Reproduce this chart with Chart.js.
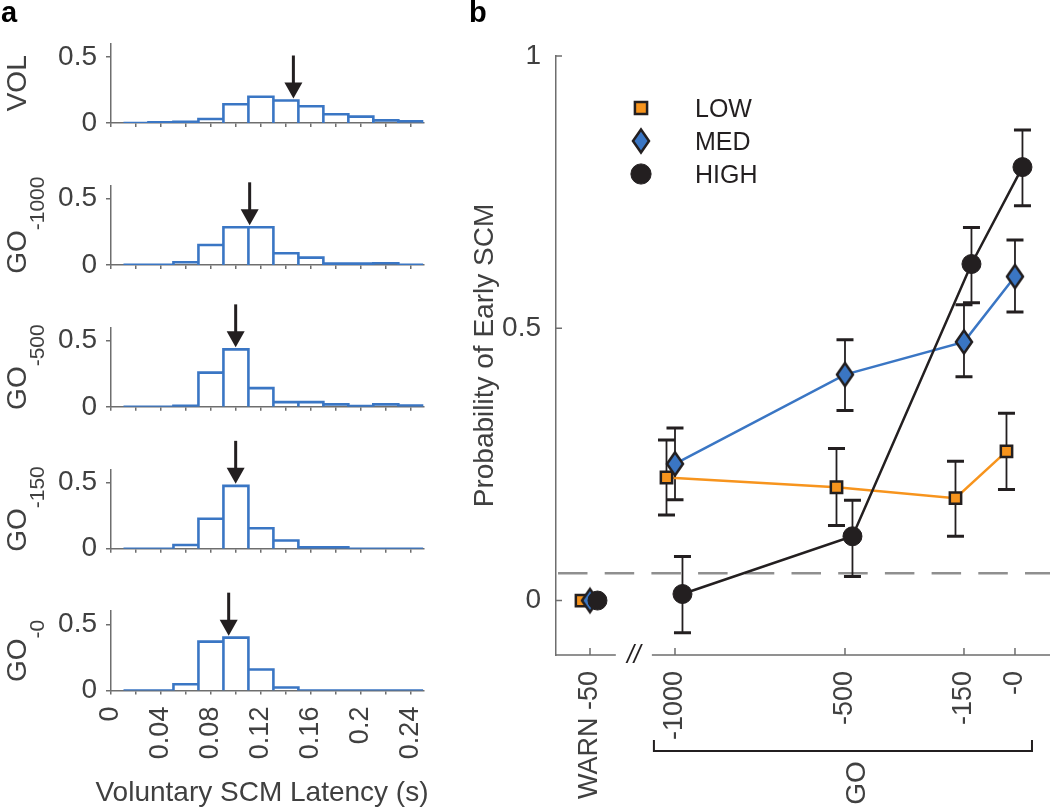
<!DOCTYPE html>
<html>
<head>
<meta charset="utf-8">
<script src="https://cdn.jsdelivr.net/npm/chart.js@4.4.1/dist/chart.umd.min.js"></script>
<style>
  html, body { margin: 0; padding: 0; background: #fff; }
  #fig { position: relative; width: 1050px; height: 809px; overflow: hidden; }
  #fig canvas { position: absolute; top: 0; }
</style>
</head>
<body>
<div id="fig">
  <canvas id="hist0" width="440" height="809" style="left:0"></canvas>
  <canvas id="hist1" width="440" height="809" style="left:0"></canvas>
  <canvas id="hist2" width="440" height="809" style="left:0"></canvas>
  <canvas id="hist3" width="440" height="809" style="left:0"></canvas>
  <canvas id="hist4" width="440" height="809" style="left:0"></canvas>
  <canvas id="prob" width="630" height="809" style="left:440px"></canvas>
</div>
<script>
// ---- panel a: latency histograms ----
const binCenters = [0.02, 0.04, 0.06, 0.08, 0.10, 0.12, 0.14, 0.16, 0.18, 0.20, 0.22, 0.24];
const binWidth = 0.02;
const volHist    = [0, 0.005, 0.01, 0.03, 0.142, 0.198, 0.17, 0.127, 0.066, 0.048, 0.02, 0.013];
const go1000Hist = [0, 0, 0.02, 0.15, 0.284, 0.284, 0.088, 0.055, 0.01, 0.01, 0.012, 0];
const go500Hist  = [0, 0, 0.008, 0.258, 0.434, 0.141, 0.035, 0.035, 0.018, 0.005, 0.018, 0.01];
const go150Hist  = [0, 0, 0.028, 0.226, 0.475, 0.155, 0.062, 0.01, 0.01, 0, 0, 0];
const go0Hist    = [0, 0, 0.048, 0.37, 0.40, 0.16, 0.023, 0, 0, 0, 0, 0];
const medianLatency = [0.146, 0.111, 0.0998, 0.0998, 0.0942];
const histNames = ['VOL', 'GO', 'GO', 'GO', 'GO'];
const histSubs = ['', '-1000', '-500', '-150', '-0'];
const latencyTicks = [0, 0.02, 0.04, 0.06, 0.08, 0.10, 0.12, 0.14, 0.16, 0.18, 0.20, 0.22, 0.24];
const latencyTickLabels = ['0', '', '0.04', '', '0.08', '', '0.12', '', '0.16', '', '0.2', '', '0.24'];
const fractionTicks = [0, 0.5];

// ---- panel b: probability of early SCM ----
const conditionValues = [-1250, -1000, -500, -150, 0];
const conditionLabels = ['WARN -50', '-1000', '-500', '-150', '-0'];
const lowProb  = [0, 0.226, 0.208, 0.188, 0.274];
const lowHi    = [0, 0.295, 0.279, 0.256, 0.344];
const lowLo    = [0, 0.157, 0.138, 0.118, 0.204];
const medProb  = [0, 0.251, 0.415, 0.475, 0.595];
const medHi    = [0, 0.317, 0.479, 0.543, 0.662];
const medLo    = [0, 0.185, 0.349, 0.411, 0.530];
const highProb = [0, 0.012, 0.118, 0.618, 0.796];
const highHi   = [0, 0.081, 0.184, 0.685, 0.864];
const highLo   = [0, -0.059, 0.044, 0.547, 0.725];
const chanceLevel = 0.05;
const probTicks = [0, 0.5, 1];
const axisBreak = [-1174, -1068];
const goBracket = [-1062, 50];

const FONT = "'Liberation Sans', Arial, Helvetica, sans-serif";
const BLUE = '#3a76c4';
const ORANGE = '#f7941d';
const DARK = '#231f20';
const AXIS = '#6e6e6e';
const TEXT = '#404040';
const CHANCE = '#8f8f8f';

const histPanels = [volHist, go1000Hist, go500Hist, go150Hist, go0Hist];
const histZero0 = 123;
const histSpacing = 141.9;
const histPlotH = 79.4;

function outline(values) {
  const pts = [];
  values.forEach((v, i) => {
    const l = binCenters[i] - binWidth / 2;
    const r = binCenters[i] + binWidth / 2;
    pts.push({ x: l, y: 0 }, { x: l, y: v }, { x: r, y: v }, { x: r, y: 0 });
  });
  return pts;
}

function rotatedText(ctx, text, x, y, font, color, align) {
  ctx.save();
  ctx.translate(x, y);
  ctx.rotate(-Math.PI / 2);
  ctx.font = font;
  ctx.fillStyle = color;
  ctx.textAlign = align || 'left';
  ctx.textBaseline = 'alphabetic';
  ctx.fillText(text, 0, 0);
  ctx.restore();
}

const histDecor = {
  id: 'histDecor',
  afterDatasetsDraw(chart, args, opts) {
    const { ctx, chartArea, scales: { x, y } } = chart;
    const i = opts.index;
    const values = histPanels[i];
    const m = medianLatency[i];
    const bin = Math.floor((m - (binCenters[0] - binWidth / 2)) / binWidth);
    const px = x.getPixelForValue(m);
    const tip = y.getPixelForValue(values[bin]) - 2;
    const total = 43, headH = 16, headW = 18;

    ctx.save();
    ctx.fillStyle = DARK;
    ctx.fillRect(px - 1.5, tip - total, 3, total - headH + 1);
    ctx.beginPath();
    ctx.moveTo(px - headW / 2, tip - headH);
    ctx.lineTo(px + headW / 2, tip - headH);
    ctx.lineTo(px, tip);
    ctx.closePath();
    ctx.fill();

    // condition label, rotated, with subscript
    const cy = (chartArea.top + chartArea.bottom) / 2;
    const mainFont = '28px ' + FONT;
    const subFont = '21px ' + FONT;
    ctx.font = mainFont;
    const w1 = ctx.measureText(histNames[i]).width;
    ctx.font = subFont;
    const w2 = histSubs[i] ? ctx.measureText(histSubs[i]).width : 0;
    const start = cy + (w1 + w2) / 2;
    rotatedText(ctx, histNames[i], 26, start, mainFont, TEXT);
    if (histSubs[i]) rotatedText(ctx, histSubs[i], 44, start - w1, subFont, TEXT);

    if (i === 0) {
      ctx.font = 'bold 29px ' + FONT;
      ctx.fillStyle = '#000';
      ctx.textAlign = 'left';
      ctx.textBaseline = 'alphabetic';
      ctx.fillText('a', 1, 22);
    }
    if (i === histPanels.length - 1) {
      ctx.font = '28px ' + FONT;
      ctx.fillStyle = TEXT;
      ctx.textAlign = 'center';
      ctx.textBaseline = 'alphabetic';
      ctx.fillText('Voluntary SCM Latency (s)', 262, 801);
    }
    ctx.restore();
  }
};

function makeHist(i) {
  const zeroY = histZero0 + i * histSpacing;
  const last = i === histPanels.length - 1;
  new Chart(document.getElementById('hist' + i), {
    type: 'line',
    data: {
      datasets: [{
        data: outline(histPanels[i]),
        borderColor: BLUE,
        borderWidth: 2.6,
        borderJoinStyle: 'miter',
        pointRadius: 0,
        tension: 0,
        fill: false
      }]
    },
    options: {
      responsive: false,
      animation: false,
      events: [],
      layout: { padding: { left: 0, right: 440 - 423.3, top: zeroY - histPlotH, bottom: 809 - zeroY - 100 } },
      plugins: { legend: { display: false }, tooltip: { enabled: false }, histDecor: { index: i } },
      scales: {
        x: {
          type: 'linear', min: 0, max: 0.25,
          afterBuildTicks: s => { s.ticks = latencyTicks.map(v => ({ value: v })); },
          afterFit: s => { s.height = 100; s.paddingLeft = 0; s.paddingRight = 0; },
          ticks: {
            display: last, autoSkip: false, minRotation: 90, maxRotation: 90, padding: 12,
            color: TEXT, font: { family: FONT, size: 27 },
            callback: (v, idx) => latencyTickLabels[idx]
          },
          grid: { display: true, drawOnChartArea: false, drawTicks: true, tickLength: 4, color: AXIS, lineWidth: 1.5 },
          border: { display: true, color: AXIS, width: 1.5 }
        },
        y: {
          min: 0, max: 0.6,
          afterBuildTicks: s => { s.ticks = fractionTicks.map(v => ({ value: v })); },
          afterFit: s => { s.width = 111; s.paddingTop = 0; s.paddingBottom = 0; },
          ticks: { padding: 9, color: TEXT, font: { family: FONT, size: 28 }, callback: v => String(v) },
          grid: { display: true, drawOnChartArea: false, drawTicks: true, tickLength: 5, color: AXIS, lineWidth: 1.5 },
          border: { display: true, color: AXIS, width: 1.5 }
        }
      }
    },
    plugins: [histDecor]
  });
}
histPanels.forEach((_, i) => makeHist(i));

// ---- panel b ----
function diamondMarker(fill) {
  const c = document.createElement('canvas');
  c.width = 22; c.height = 30;
  const g = c.getContext('2d');
  g.beginPath();
  g.moveTo(11, 3.5);
  g.lineTo(19, 15);
  g.lineTo(11, 26.5);
  g.lineTo(3, 15);
  g.closePath();
  g.fillStyle = fill;
  g.fill();
  g.lineWidth = 2.5;
  g.lineJoin = 'miter';
  g.strokeStyle = DARK;
  g.stroke();
  return c;
}

const groups = [
  { label: 'LOW', prob: lowProb, hi: lowHi, lo: lowLo, color: ORANGE, marker: 'rect', radius: 8, fill: ORANGE, bw: 2.5, dx: -25, order: 3 },
  { label: 'MED', prob: medProb, hi: medHi, lo: medLo, color: BLUE, marker: diamondMarker(BLUE), radius: 10, fill: BLUE, bw: 2.5, dx: 0, order: 2 },
  { label: 'HIGH', prob: highProb, hi: highHi, lo: highLo, color: DARK, marker: 'circle', radius: 9.5, fill: DARK, bw: 1, dx: 22, order: 1 }
];

const probDecor = {
  id: 'probDecor',
  beforeDatasetsDraw(chart) {
    const { ctx, chartArea, scales: { x, y } } = chart;
    ctx.save();
    // chance level
    ctx.strokeStyle = CHANCE;
    ctx.lineWidth = 2.5;
    ctx.setLineDash([29.5, 17.2]);
    ctx.lineDashOffset = -2;
    const yc = y.getPixelForValue(chanceLevel);
    ctx.beginPath();
    ctx.moveTo(chartArea.left, yc);
    ctx.lineTo(chartArea.right, yc);
    ctx.stroke();
    ctx.setLineDash([]);
    // error bars
    ctx.strokeStyle = DARK;
    groups.forEach(g => {
      conditionValues.forEach((c, i) => {
        if (g.hi[i] === g.lo[i]) return;
        const px = x.getPixelForValue(c + g.dx);
        const yt = y.getPixelForValue(g.hi[i]);
        const yb = y.getPixelForValue(g.lo[i]);
        ctx.lineWidth = 1.8;
        ctx.beginPath();
        ctx.moveTo(px, yt);
        ctx.lineTo(px, yb);
        ctx.stroke();
        ctx.lineWidth = 3;
        ctx.beginPath();
        ctx.moveTo(px - 8.5, yt); ctx.lineTo(px + 8.5, yt);
        ctx.moveTo(px - 8.5, yb); ctx.lineTo(px + 8.5, yb);
        ctx.stroke();
      });
    });
    ctx.restore();
  },
  afterDraw(chart) {
    const { ctx, chartArea, scales: { x, y } } = chart;
    const base = chartArea.bottom;
    ctx.save();
    // broken x axis
    ctx.strokeStyle = AXIS;
    ctx.lineWidth = 1.5;
    ctx.beginPath();
    ctx.moveTo(chartArea.left, base);
    ctx.lineTo(x.getPixelForValue(axisBreak[0]), base);
    ctx.moveTo(x.getPixelForValue(axisBreak[1]), base);
    ctx.lineTo(chartArea.right, base);
    // inward ticks
    conditionValues.forEach(c => {
      const px = x.getPixelForValue(c);
      ctx.moveTo(px, base);
      ctx.lineTo(px, base - 7);
    });
    probTicks.forEach(v => {
      const py = y.getPixelForValue(v);
      ctx.moveTo(chartArea.left, py);
      ctx.lineTo(chartArea.left + 6, py);
    });
    ctx.stroke();
    ctx.font = 'italic 25px ' + FONT;
    ctx.fillStyle = DARK;
    ctx.textAlign = 'center';
    ctx.textBaseline = 'middle';
    ctx.fillText('//', (x.getPixelForValue(axisBreak[0]) + x.getPixelForValue(axisBreak[1])) / 2, base + 1);

    // legend
    groups.forEach((g, i) => {
      const ly = [108, 141, 174][i];
      ctx.fillStyle = g.fill;
      ctx.strokeStyle = DARK;
      ctx.lineWidth = g.bw;
      Chart.helpers.drawPoint(ctx, { pointStyle: g.marker, radius: g.radius + 0.6, borderWidth: g.bw, rotation: 0 }, 201, ly);
      ctx.fillStyle = DARK;
      ctx.font = '25px ' + FONT;
      ctx.textAlign = 'left';
      ctx.textBaseline = 'alphabetic';
      ctx.fillText(g.label, 255, ly + 9);
    });

    // y title
    rotatedText(ctx, 'Probability of Early SCM', 53, (chartArea.top + chartArea.bottom) / 2, '28px ' + FONT, TEXT, 'center');

    // GO bracket
    const bx0 = x.getPixelForValue(goBracket[0]);
    const bx1 = x.getPixelForValue(goBracket[1]);
    ctx.strokeStyle = DARK;
    ctx.lineWidth = 2;
    ctx.beginPath();
    ctx.moveTo(bx0, 740); ctx.lineTo(bx0, 751); ctx.lineTo(bx1, 751); ctx.lineTo(bx1, 740);
    ctx.stroke();
    rotatedText(ctx, 'GO', x.getPixelForValue(-470) + 10, 783, '28px ' + FONT, TEXT, 'center');

    ctx.font = 'bold 29px ' + FONT;
    ctx.fillStyle = '#000';
    ctx.textAlign = 'left';
    ctx.textBaseline = 'alphabetic';
    ctx.fillText('b', 29, 22);
    ctx.restore();
  }
};

new Chart(document.getElementById('prob'), {
  type: 'line',
  data: {
    datasets: groups.map(g => ({
      label: g.label,
      data: conditionValues.map((c, i) => ({ x: c + g.dx, y: g.prob[i] })),
      borderColor: g.color,
      borderWidth: 2.5,
      tension: 0,
      fill: false,
      segment: { borderColor: ctx => ctx.p0DataIndex === 0 ? 'rgba(0,0,0,0)' : g.color },
      pointStyle: g.marker,
      pointRadius: g.radius,
      pointBackgroundColor: g.fill,
      pointBorderColor: DARK,
      pointBorderWidth: g.bw,
      order: g.order
    }))
  },
  options: {
    responsive: false,
    animation: false,
    events: [],
    layout: { padding: { left: 0, right: 20, top: 56, bottom: 809 - 655 - 150 } },
    plugins: { legend: { display: false }, tooltip: { enabled: false } },
    scales: {
      x: {
        type: 'linear', min: -1350, max: 103,
        afterBuildTicks: s => { s.ticks = conditionValues.map(v => ({ value: v })); },
        afterFit: s => { s.height = 150; s.paddingLeft = 0; s.paddingRight = 0; },
        ticks: {
          autoSkip: false, minRotation: 90, maxRotation: 90, padding: 16,
          color: TEXT, font: { family: FONT, size: 27 },
          callback: (v, idx) => conditionLabels[idx]
        },
        grid: { display: false, drawTicks: false },
        border: { display: false }
      },
      y: {
        min: -0.1, max: 1,
        afterBuildTicks: s => { s.ticks = probTicks.map(v => ({ value: v })); },
        afterFit: s => { s.width = 116; s.paddingTop = 0; s.paddingBottom = 0; },
        ticks: { padding: 15, color: TEXT, font: { family: FONT, size: 28 }, callback: v => String(v) },
        grid: { display: false, drawTicks: false },
        border: { display: true, color: AXIS, width: 1.5 }
      }
    }
  },
  plugins: [probDecor]
});
</script>
</body>
</html>
